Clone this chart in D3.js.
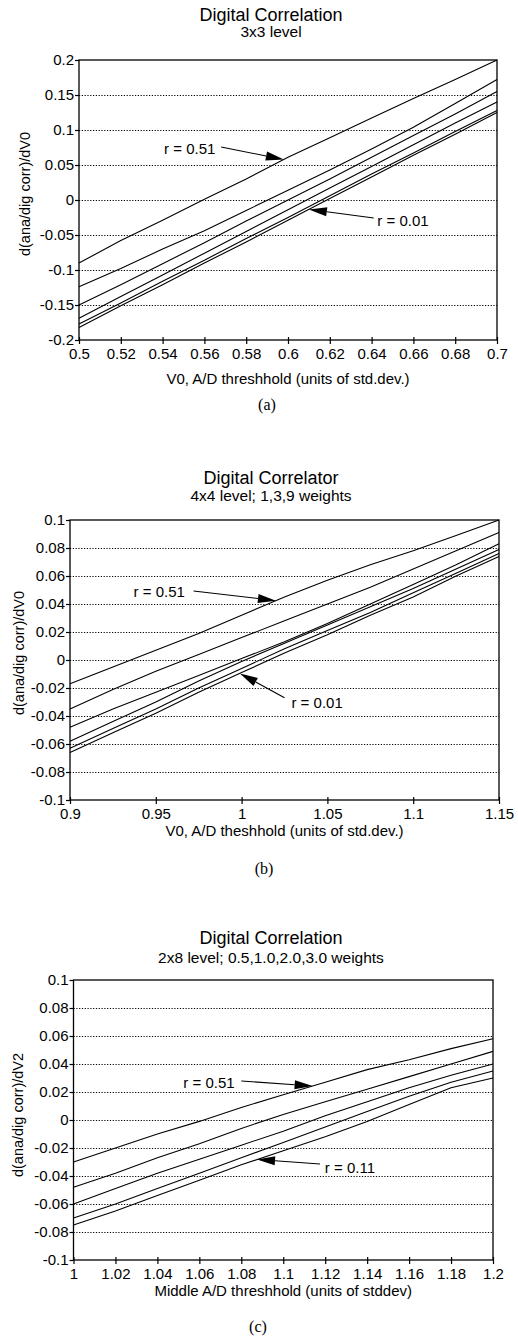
<!DOCTYPE html>
<html>
<head>
<meta charset="utf-8">
<script src="https://cdn.jsdelivr.net/npm/d3@7"></script>
<style>
  body { margin: 0; background: #fff; }
  svg text { font-family: "Liberation Sans", Arial, sans-serif; fill: #000; }
  .tag { font-family: "Liberation Serif", "Times New Roman", serif; }
</style>
</head>
<body>
<svg id="chart" width="518" height="1339"></svg>
<script>
// ---- panel (a): 3x3 level ----
var xA = [0.5, 0.52, 0.54, 0.56, 0.58, 0.6, 0.62, 0.64, 0.66, 0.68, 0.7];
var seriesA = [
  [-0.090, -0.058, -0.029, 0.001, 0.030, 0.061, 0.089, 0.117, 0.145, 0.172, 0.200],
  [-0.124, -0.098, -0.070, -0.044, -0.015, 0.014, 0.043, 0.073, 0.104, 0.138, 0.172],
  [-0.150, -0.121, -0.091, -0.061, -0.030, 0.000, 0.030, 0.061, 0.092, 0.123, 0.155],
  [-0.169, -0.138, -0.107, -0.076, -0.045, -0.014, 0.017, 0.048, 0.079, 0.110, 0.140],
  [-0.177, -0.147, -0.116, -0.086, -0.055, -0.025, 0.006, 0.037, 0.067, 0.098, 0.128],
  [-0.182, -0.151, -0.121, -0.090, -0.060, -0.029, 0.002, 0.033, 0.064, 0.094, 0.125]
];
var xTicksA = [0.5, 0.52, 0.54, 0.56, 0.58, 0.6, 0.62, 0.64, 0.66, 0.68, 0.7];
var xLabelsA = ["0.5", "0.52", "0.54", "0.56", "0.58", "0.6", "0.62", "0.64", "0.66", "0.68", "0.7"];
var yTicksA = [0.2, 0.15, 0.1, 0.05, 0, -0.05, -0.1, -0.15, -0.2];
var yLabelsA = ["0.2", "0.15", "0.1", "0.05", "0", "-0.05", "-0.1", "-0.15", "-0.2"];
var notesA = [
  {text: "r = 0.51", lx: 0.553, ly: 0.074, sx: 0.568, sy: 0.0757, tipX: 0.598, line: 0},
  {text: "r = 0.01", lx: 0.655, ly: -0.0286, sx: 0.641, sy: -0.0257, tipX: 0.610, line: 5}
];

// ---- panel (b): 4x4 level ----
var xB = [0.9, 0.925, 0.95, 0.975, 1.0, 1.025, 1.05, 1.075, 1.1, 1.125, 1.15];
var seriesB = [
  [-0.017, -0.005, 0.007, 0.019, 0.032, 0.045, 0.057, 0.068, 0.078, 0.089, 0.100],
  [-0.035, -0.021, -0.008, 0.004, 0.016, 0.028, 0.040, 0.052, 0.065, 0.078, 0.091],
  [-0.048, -0.035, -0.023, -0.011, 0.001, 0.013, 0.026, 0.040, 0.054, 0.068, 0.083],
  [-0.058, -0.044, -0.030, -0.015, -0.001, 0.012, 0.025, 0.038, 0.051, 0.065, 0.079],
  [-0.063, -0.049, -0.035, -0.020, -0.006, 0.008, 0.021, 0.034, 0.048, 0.062, 0.076],
  [-0.066, -0.052, -0.038, -0.023, -0.009, 0.005, 0.018, 0.032, 0.045, 0.060, 0.074]
];
var xTicksB = [0.9, 0.95, 1, 1.05, 1.1, 1.15];
var xLabelsB = ["0.9", "0.95", "1", "1.05", "1.1", "1.15"];
var yTicksBC = [0.1, 0.08, 0.06, 0.04, 0.02, 0, -0.02, -0.04, -0.06, -0.08, -0.1];
var yLabelsBC = ["0.1", "0.08", "0.06", "0.04", "0.02", "0", "-0.02", "-0.04", "-0.06", "-0.08", "-0.1"];
var notesB = [
  {text: "r = 0.51", lx: 0.952, ly: 0.0486, sx: 0.972, sy: 0.0493, tipX: 1.02, line: 0},
  {text: "r = 0.01", lx: 1.044, ly: -0.030, sx: 1.025, sy: -0.027, tipX: 0.999, line: 5}
];

// ---- panel (c): 2x8 level ----
var xC = [1.0, 1.02, 1.04, 1.06, 1.08, 1.1, 1.12, 1.14, 1.16, 1.18, 1.2];
var seriesC = [
  [-0.030, -0.020, -0.010, -0.001, 0.009, 0.018, 0.027, 0.036, 0.043, 0.051, 0.058],
  [-0.048, -0.038, -0.027, -0.017, -0.006, 0.004, 0.013, 0.022, 0.031, 0.040, 0.049],
  [-0.060, -0.049, -0.038, -0.028, -0.018, -0.008, 0.003, 0.013, 0.023, 0.032, 0.040],
  [-0.070, -0.060, -0.049, -0.038, -0.027, -0.016, -0.005, 0.006, 0.017, 0.027, 0.035],
  [-0.075, -0.065, -0.054, -0.043, -0.032, -0.022, -0.012, -0.001, 0.011, 0.023, 0.030]
];
var xTicksC = [1, 1.02, 1.04, 1.06, 1.08, 1.1, 1.12, 1.14, 1.16, 1.18, 1.2];
var xLabelsC = ["1", "1.02", "1.04", "1.06", "1.08", "1.1", "1.12", "1.14", "1.16", "1.18", "1.2"];
var notesC = [
  {text: "r = 0.51", lx: 1.0646, ly: 0.0271, sx: 1.0800, sy: 0.0279, tipX: 1.114, line: 0},
  {text: "r = 0.11", lx: 1.1318, ly: -0.0336, sx: 1.1175, sy: -0.0314, tipX: 1.0875, line: 4}
];

var panels = [
  {x: xA, series: seriesA, xTicks: xTicksA, xLabels: xLabelsA, yTicks: yTicksA, yLabels: yLabelsA,
   xDomain: [0.5, 0.7], yDomain: [-0.2, 0.2], box: {l: 79, r: 497, t: 60, b: 340},
   title: "Digital Correlation", subtitle: "3x3 level", titleY: 21, subY: 37,
   xTitle: "V0, A/D threshhold (units of std.dev.)", xTitleY: 384,
   yTitle: "d(ana/dig corr)/dV0", yTitleX: 25, yTitleY: 194,
   tag: "(a)", tagX: 267, tagY: 410, notes: notesA},
  {x: xB, series: seriesB, xTicks: xTicksB, xLabels: xLabelsB, yTicks: yTicksBC, yLabels: yLabelsBC,
   xDomain: [0.9, 1.15], yDomain: [-0.1, 0.1], box: {l: 70, r: 499, t: 520, b: 800},
   title: "Digital Correlator", subtitle: "4x4 level; 1,3,9 weights", titleY: 484, subY: 501,
   xTitle: "V0, A/D theshhold (units of std.dev.)", xTitleY: 836,
   yTitle: "d(ana/dig corr)/dV0", yTitleX: 19, yTitleY: 653,
   tag: "(b)", tagX: 264, tagY: 874, notes: notesB},
  {x: xC, series: seriesC, xTicks: xTicksC, xLabels: xLabelsC, yTicks: yTicksBC, yLabels: yLabelsBC,
   xDomain: [1.0, 1.2], yDomain: [-0.1, 0.1], box: {l: 73.5, r: 493, t: 980, b: 1260},
   title: "Digital Correlation", subtitle: "2x8 level; 0.5,1.0,2.0,3.0 weights", titleY: 944, subY: 963,
   xTitle: "Middle A/D threshhold (units of stddev)", xTitleY: 1296,
   yTitle: "d(ana/dig corr)/dV2", yTitleX: 18, yTitleY: 1115,
   tag: "(c)", tagX: 258, tagY: 1332, notes: notesC}
];

var svg = d3.select("#chart");
panels.forEach(drawPanel);

function drawPanel(p) {
  var b = p.box;
  var x = d3.scaleLinear().domain(p.xDomain).range([b.l, b.r]);
  var y = d3.scaleLinear().domain(p.yDomain).range([b.b, b.t]);
  var g = svg.append("g");

  // dotted grid lines (inner ticks only)
  var inner = p.yTicks.filter(function(d) { return d > p.yDomain[0] && d < p.yDomain[1]; });
  g.selectAll(".grid").data(inner).enter().append("line")
    .attr("x1", b.l).attr("x2", b.r)
    .attr("y1", function(d) { return Math.round(y(d)) + 0.5; })
    .attr("y2", function(d) { return Math.round(y(d)) + 0.5; })
    .attr("stroke", "#000").attr("stroke-width", 1)
    .attr("stroke-dasharray", "1.2,1.6");

  // curves
  var line = d3.line()
    .x(function(d, i) { return x(p.x[i]); })
    .y(function(d) { return y(d); });
  g.selectAll(".curve").data(p.series).enter().append("path")
    .attr("d", line)
    .attr("fill", "none").attr("stroke", "#000").attr("stroke-width", 1.1);

  // frame
  g.append("rect")
    .attr("x", b.l).attr("y", b.t)
    .attr("width", b.r - b.l).attr("height", b.b - b.t)
    .attr("fill", "none").attr("stroke", "#000").attr("stroke-width", 1.3);

  // axes
  var xAxis = d3.axisBottom(x).tickValues(p.xTicks)
    .tickFormat(function(d, i) { return p.xLabels[i]; })
    .tickSize(4).tickPadding(4);
  var gx = g.append("g").attr("transform", "translate(0," + b.b + ")").call(xAxis);
  gx.select(".domain").remove();
  gx.selectAll(".tick line").attr("y1", -3).attr("stroke-width", 1.2);
  gx.selectAll("text").attr("font-size", 15).attr("font-family", "Liberation Sans, Arial, sans-serif");

  var yAxis = d3.axisLeft(y).tickValues(p.yTicks)
    .tickFormat(function(d, i) { return p.yLabels[i]; })
    .tickSize(4).tickPadding(1);
  var gy = g.append("g").attr("transform", "translate(" + b.l + ",0)").call(yAxis);
  gy.select(".domain").remove();
  gy.selectAll(".tick line").attr("stroke-width", 1.2);
  gy.selectAll("text").attr("font-size", 15).attr("font-family", "Liberation Sans, Arial, sans-serif");

  // titles
  g.append("text").attr("x", 271).attr("y", p.titleY)
    .attr("text-anchor", "middle").attr("font-size", 18).text(p.title);
  g.append("text").attr("x", 271).attr("y", p.subY)
    .attr("text-anchor", "middle").attr("font-size", 15.5).text(p.subtitle);
  g.append("text").attr("x", (b.l + b.r) / 2).attr("y", p.xTitleY)
    .attr("text-anchor", "middle").attr("font-size", 15).text(p.xTitle);
  g.append("text")
    .attr("transform", "translate(" + p.yTitleX + "," + p.yTitleY + ") rotate(-90)")
    .attr("text-anchor", "middle").attr("dominant-baseline", "central")
    .attr("font-size", 14.5).text(p.yTitle);
  g.append("text").attr("class", "tag").attr("x", p.tagX).attr("y", p.tagY)
    .attr("text-anchor", "middle").attr("font-size", 16).text(p.tag);

  // annotations with arrows
  p.notes.forEach(function(n) {
    var val = d3.scaleLinear().domain(p.x).range(p.series[n.line]);
    var tx = x(n.tipX), ty = y(val(n.tipX));
    var sx = x(n.sx), sy = y(n.sy);
    var ang = Math.atan2(ty - sy, tx - sx);
    var hl = 18, hw = 4.5;
    var bx = tx - hl * Math.cos(ang), by = ty - hl * Math.sin(ang);
    g.append("line").attr("x1", sx).attr("y1", sy).attr("x2", bx).attr("y2", by)
      .attr("stroke", "#000").attr("stroke-width", 1.1);
    var px = -Math.sin(ang) * hw, py = Math.cos(ang) * hw;
    g.append("path")
      .attr("d", "M" + tx + "," + ty + "L" + (bx + px) + "," + (by + py) + "L" + (bx - px) + "," + (by - py) + "Z")
      .attr("fill", "#000");
    g.append("text").attr("x", x(n.lx)).attr("y", y(n.ly))
      .attr("text-anchor", "middle").attr("dominant-baseline", "central")
      .attr("font-size", 15).text(n.text);
  });
}
</script>
</body>
</html>
